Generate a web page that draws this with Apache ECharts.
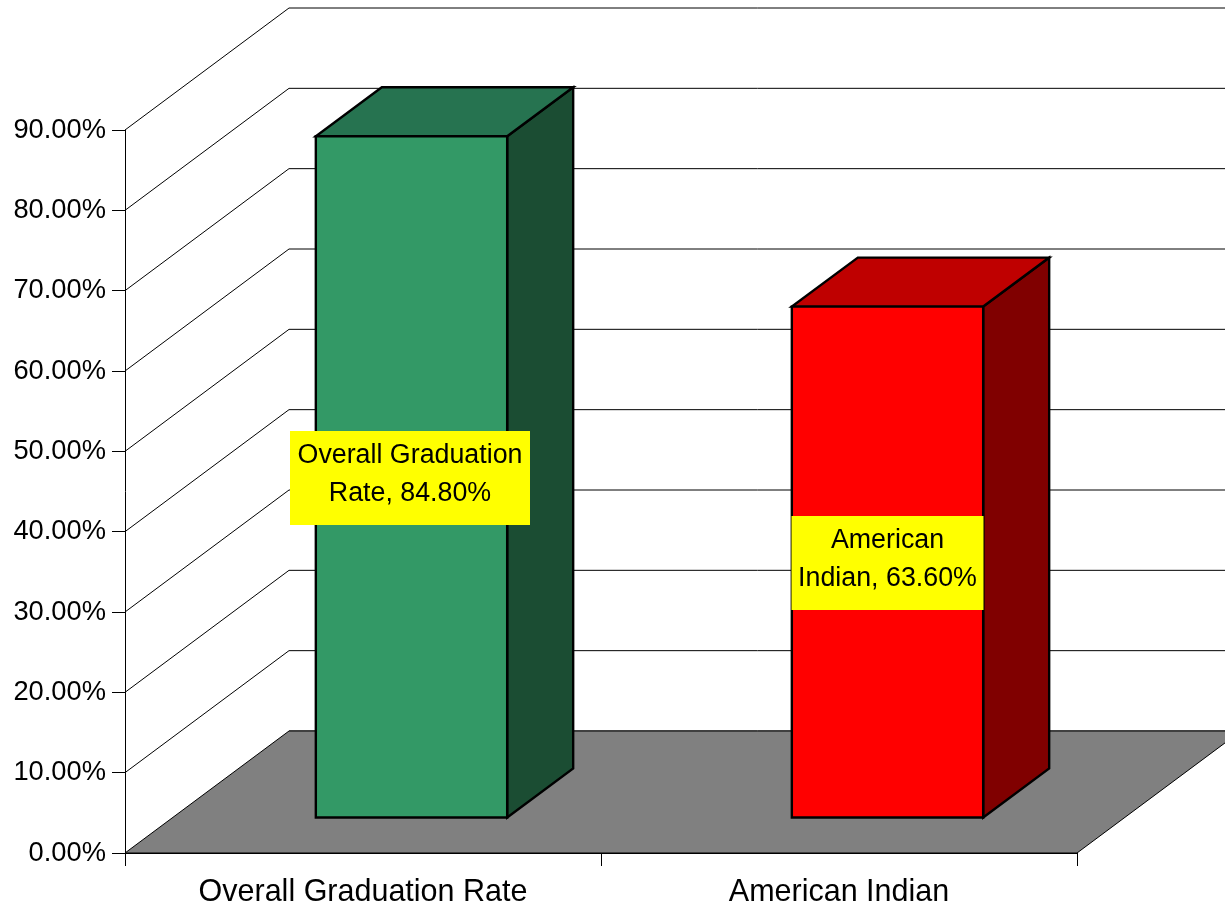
<!DOCTYPE html>
<html>
<head>
<meta charset="utf-8">
<style>html,body{margin:0;padding:0;background:#fff}#c{width:1225px;height:909px}</style>
<script src="https://cdn.jsdelivr.net/npm/echarts@6/dist/echarts.min.js"></script>
</head>
<body>
<div id="c"></div>
<script>
const categories = ["Overall Graduation Rate", "American Indian"];
const values = [84.8, 63.6];
const labelLines = [["Overall Graduation", "Rate, 84.80%"], ["American", "Indian, 63.60%"]];
const gridValues = [0, 10, 20, 30, 40, 50, 60, 70, 80, 90];

const FONT = '"Liberation Sans", Arial, sans-serif';
const wall = {dx: 164, dy: -122};
const barDepth = {dx: 66, dy: -49};
const barShift = {dx: 48.5, dy: -35.5};
const barRatio = 0.402;
const faces = [
  {front: '#339966', top: '#267350', side: '#1B4D33'},
  {front: '#FF0000', top: '#BF0000', side: '#800000'}
];
const labelBoxes = [{w: 240, h: 94, dx: -1.5}, {w: 192, h: 94, dx: 0}];
const line = {stroke: '#000', lineWidth: 1, fill: null};
const edge = {stroke: '#000', lineWidth: 2.4, lineJoin: 'miter'};

function wallItem(params, api) {
  const cs = params.coordSys;
  const y = api.coord([0, api.value(0)])[1];
  if (api.value(0) === 0) {
    return {type: 'polyline', shape: {points: [
      [cs.x + wall.dx, y + wall.dy], [cs.x + cs.width + wall.dx, y + wall.dy]
    ]}, style: line};
  }
  return {type: 'polyline', shape: {points: [
    [cs.x, y], [cs.x + wall.dx, y + wall.dy], [cs.x + cs.width + wall.dx, y + wall.dy]
  ]}, style: line};
}

function floorItem(params, api) {
  const cs = params.coordSys;
  const y = api.coord([0, 0])[1];
  return {type: 'polygon', shape: {points: [
    [cs.x, y], [cs.x + cs.width, y],
    [cs.x + cs.width + wall.dx, y + wall.dy], [cs.x + wall.dx, y + wall.dy]
  ]}, style: {fill: '#808080', stroke: '#000', lineWidth: 1}};
}

function barItem(params, api) {
  const i = api.value(0);
  const base = api.coord([i, 0]);
  const top = api.coord([i, api.value(1)]);
  const w = api.size([1, 0])[0] * barRatio;
  const x0 = base[0] + barShift.dx - w / 2, x1 = x0 + w;
  const yb = base[1] + barShift.dy, yt = top[1] + barShift.dy;
  const f = faces[i], dx = barDepth.dx, dy = barDepth.dy;
  return {type: 'group', children: [
    {type: 'polygon', shape: {points: [[x1, yb], [x1 + dx, yb + dy], [x1 + dx, yt + dy], [x1, yt]]},
      style: Object.assign({fill: f.side}, edge)},
    {type: 'polygon', shape: {points: [[x0, yt], [x1, yt], [x1 + dx, yt + dy], [x0 + dx, yt + dy]]},
      style: Object.assign({fill: f.top}, edge)},
    {type: 'rect', shape: {x: x0, y: yt, width: w, height: yb - yt},
      style: Object.assign({fill: f.front}, edge)}
  ]};
}

function labelItem(params, api) {
  const i = api.value(0);
  const base = api.coord([i, 0]);
  const top = api.coord([i, api.value(1)]);
  const b = labelBoxes[i];
  const cx = base[0] + barShift.dx + b.dx, cy = (base[1] + top[1]) / 2 + barShift.dy + 1;
  return {type: 'group', children: [
    {type: 'rect', shape: {x: cx - b.w / 2, y: cy - b.h / 2, width: b.w, height: b.h}, style: {fill: '#FFFF00'}},
    {type: 'text', style: {text: labelLines[i].join('\n'), x: cx, y: cy - 3, align: 'center', verticalAlign: 'middle',
      font: '26.8px ' + FONT, lineHeight: 38, fill: '#000'}}
  ]};
}

const chart = echarts.init(document.getElementById('c'), null, {renderer: 'canvas'});
chart.setOption({
  animation: false,
  backgroundColor: '#fff',
  grid: {left: 125, right: 148, top: 130, bottom: 56, containLabel: false},
  xAxis: {
    type: 'category', data: categories,
    axisLine: {show: true, lineStyle: {color: '#000', width: 1}},
    axisTick: {show: true, alignWithLabel: false, length: 13, lineStyle: {color: '#000', width: 1}},
    axisLabel: {fontFamily: FONT, fontSize: 30.5, color: '#000', margin: 24, interval: 0},
    splitLine: {show: false}
  },
  yAxis: {
    type: 'value', min: 0, max: 90, interval: 10,
    axisLine: {show: true, lineStyle: {color: '#000', width: 1}},
    axisTick: {show: true, length: 13, lineStyle: {color: '#000', width: 1}},
    axisLabel: {fontFamily: FONT, fontSize: 27.3, color: '#000', margin: 19,
      formatter: v => v.toFixed(2) + '%'},
    splitLine: {show: false}
  },
  series: [
    {type: 'custom', coordinateSystem: 'cartesian2d', z: 1, silent: true, clip: false,
      encode: {y: 0}, data: gridValues.map(v => [v]), renderItem: wallItem},
    {type: 'custom', coordinateSystem: 'cartesian2d', z: 2, silent: true, clip: false,
      data: [[0]], renderItem: floorItem},
    {type: 'custom', coordinateSystem: 'cartesian2d', z: 3, silent: true, clip: false,
      encode: {x: 0, y: 1}, data: values.map((v, i) => [i, v]), renderItem: barItem},
    {type: 'custom', coordinateSystem: 'cartesian2d', z: 4, silent: true, clip: false,
      encode: {x: 0, y: 1}, data: values.map((v, i) => [i, v]), renderItem: labelItem}
  ]
});
</script>
</body>
</html>
